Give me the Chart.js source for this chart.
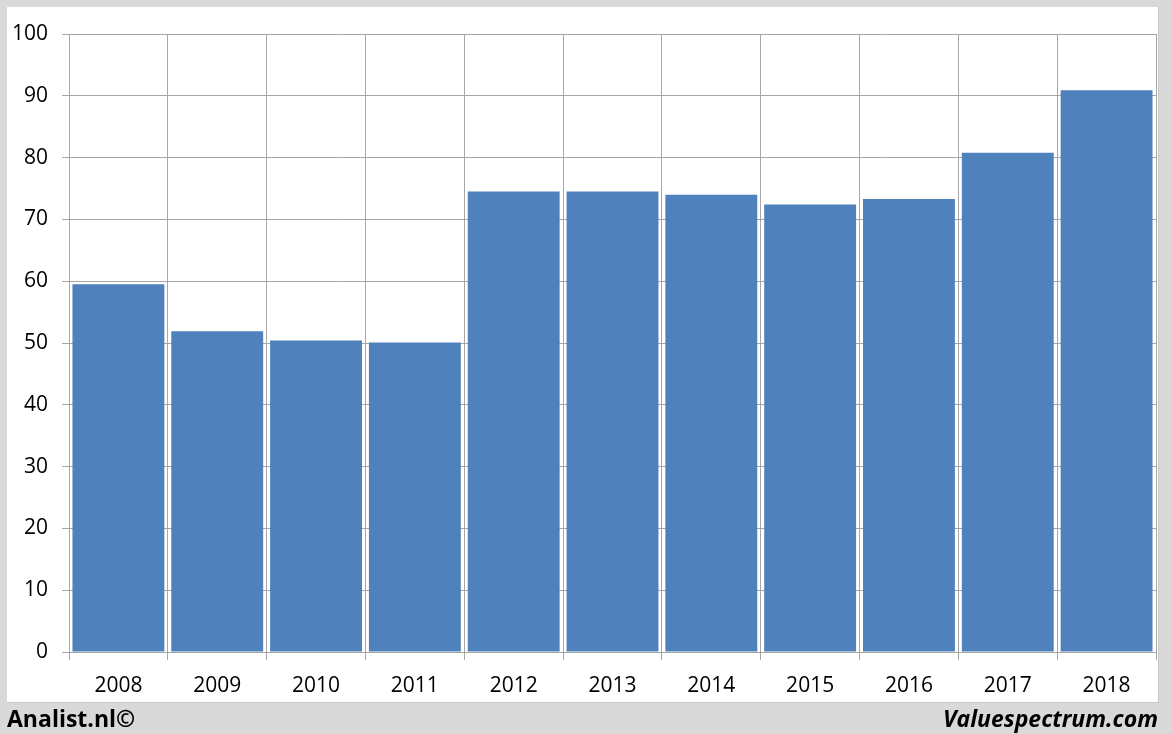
<!DOCTYPE html>
<html>
<head>
<meta charset="utf-8">
<script src="https://cdn.jsdelivr.net/npm/chart.js@4"></script>
<style>
  html, body { margin: 0; padding: 0; }
  body { width: 1172px; height: 734px; background: #d9d9d9; position: relative; overflow: hidden; font-family: "Open Sans", sans-serif; }
  #panel { position: absolute; left: 7px; top: 7px; width: 1151px; height: 695px; background: #ffffff; border-right: 1px solid #c8c8c8; border-bottom: 1px solid #c8c8c8; }
  #wrap { position: absolute; left: 0; top: 0; width: 1172px; height: 734px; }
  .foot { position: absolute; top: 703px; font-weight: bold; font-size: 23px; color: #000; line-height: 30px; }
  #left { left: 7px; }
  #right { right: 14px; font-style: italic; }
</style>
</head>
<body>
<div id="panel"></div>
<div id="wrap"><canvas id="c" width="1172" height="734"></canvas></div>
<div class="foot" id="left">Analist.nl©</div>
<div class="foot" id="right">Valuespectrum.com</div>
<script>
const categories = ["2008","2009","2010","2011","2012","2013","2014","2015","2016","2017","2018"];
const values = [59.5, 51.9, 50.4, 50.1, 74.5, 74.5, 74.0, 72.4, 73.3, 80.8, 90.9];
const yTicks = [0,10,20,30,40,50,60,70,80,90,100];

new Chart(document.getElementById('c'), {
  type: 'bar',
  data: {
    labels: categories,
    datasets: [{
      data: values,
      backgroundColor: '#4f81bd',
      borderWidth: 0,
      barPercentage: 0.93,
      categoryPercentage: 1.0
    }]
  },
  options: {
    responsive: false,
    animation: false,
    events: [],
    layout: { padding: { left: 7, right: 16, top: 34, bottom: 32 } },
    plugins: { legend: { display: false }, tooltip: { enabled: false } },
    scales: {
      x: {
        offset: true,
        grid: { offset: true, color: '#a6a6a6', lineWidth: 1, drawTicks: true, tickLength: 8, tickColor: '#a6a6a6' },
        border: { color: '#a6a6a6' },
        ticks: { color: '#000', font: { family: 'Open Sans', size: 21 }, padding: 13, maxRotation: 0 },
        afterFit: s => { s.height = 50; }
      },
      y: {
        min: 0, max: 100,
        afterBuildTicks: s => { s.ticks = yTicks.map(v => ({ value: v })); },
        grid: { color: '#a6a6a6', lineWidth: 1, drawTicks: true, tickLength: 7, tickColor: '#a6a6a6' },
        border: { color: '#a6a6a6' },
        ticks: { color: '#000', font: { family: 'Open Sans', size: 21 }, padding: 14 },
        afterFit: s => { s.width = 62; }
      }
    }
  }
});
</script>
</body>
</html>
